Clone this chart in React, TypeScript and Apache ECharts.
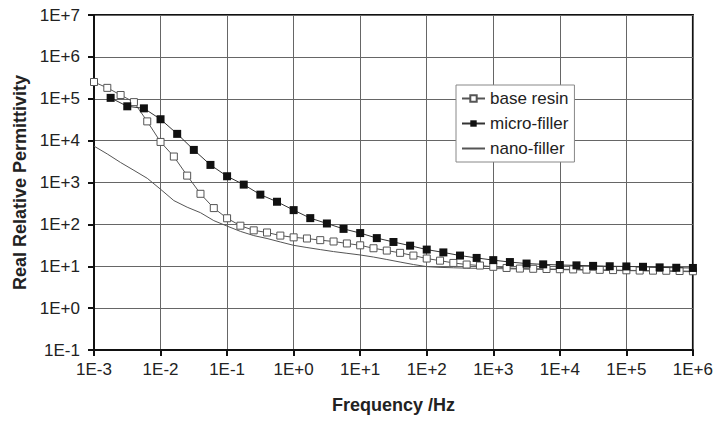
import React, { useEffect, useRef } from 'react';
import * as echarts from 'echarts';

// Frequency (Hz), five points per decade for base resin and nano-filler
const baseResinFreq = [
  1e-3, 1.585e-3, 2.512e-3, 3.981e-3, 6.31e-3,
  1e-2, 1.585e-2, 2.512e-2, 3.981e-2, 6.31e-2,
  1e-1, 1.585e-1, 2.512e-1, 3.981e-1, 6.31e-1,
  1, 1.585, 2.512, 3.981, 6.31,
  10, 15.85, 25.12, 39.81, 63.1,
  100, 158.5, 251.2, 398.1, 631,
  1e3, 1.585e3, 2.512e3, 3.981e3, 6.31e3,
  1e4, 1.585e4, 2.512e4, 3.981e4, 6.31e4,
  1e5, 1.585e5, 2.512e5, 3.981e5, 6.31e5,
  1e6,
];
const baseResinValues = [
  251000, 182000, 123000, 83000, 28800,
  9300, 4170, 1460, 537, 245,
  140, 93, 72, 64, 54,
  49, 46, 42, 39, 35,
  31.6, 26.9, 23.7, 20.9, 18.0,
  15.3, 13.6, 12.0, 11.0, 10.4,
  9.7, 9.1, 8.8, 8.7, 8.6,
  8.5, 8.4, 8.3, 8.2, 8.1,
  8.0, 7.9, 7.85, 7.8, 7.7,
  7.6,
];

// Micro-filler, four points per decade
const microFreq = [
  1.778e-3, 3.162e-3, 5.623e-3,
  1e-2, 1.778e-2, 3.162e-2, 5.623e-2,
  1e-1, 1.778e-1, 3.162e-1, 5.623e-1,
  1, 1.778, 3.162, 5.623,
  10, 17.78, 31.62, 56.23,
  100, 177.8, 316.2, 562.3,
  1e3, 1.778e3, 3.162e3, 5.623e3,
  1e4, 1.778e4, 3.162e4, 5.623e4,
  1e5, 1.778e5, 3.162e5, 5.623e5,
  1e6,
];
const microValues = [
  105000, 66000, 59000,
  32400, 14500, 6000, 2630,
  1410, 890, 513, 347,
  219, 141, 105, 78,
  62, 47, 38, 31,
  25, 21.4, 18, 15.8,
  14, 12.6, 11.6, 11.1,
  10.7, 10.5, 10.2, 10.0,
  9.9, 9.7, 9.4, 9.2,
  9.1,
];

// Nano-filler (line only)
const nanoFreq = baseResinFreq;
const nanoValues = [
  7400, 4800, 3000, 1950, 1260,
  690, 370, 257, 190, 123,
  91, 68, 54, 46, 38,
  31.6, 28, 25, 22.4, 20.4,
  18.6, 16.6, 14.5, 12.6, 11.0,
  9.8, 9.4, 9.2, 9.0, 8.9,
  8.8, 8.7, 8.6, 8.5, 8.4,
  8.3, 8.2, 8.1, 8.0, 7.9,
  7.85, 7.8, 7.7, 7.6, 7.5,
  7.4,
];

const seriesNames = ['base resin', 'micro-filler', 'nano-filler'];

const FONT = '"Liberation Sans", Arial, sans-serif';

const expLabel = (v: number) => {
  const e = Math.round(Math.log10(v));
  return '1E' + (e >= 0 ? '+' : '-') + Math.abs(e);
};

const pair = (xs: number[], ys: number[]) => ys.map((y, i) => [xs[i], y]);

export default function App() {
  const ref = useRef<HTMLDivElement>(null);
  useEffect(() => {
    const chart = echarts.init(ref.current!, null, { renderer: 'svg' });
    chart.setOption({
      animation: false,
      backgroundColor: '#fff',
      textStyle: { fontFamily: FONT },
      grid: {
        left: 94,
        right: 22,
        top: 15,
        bottom: 71,
        show: true,
        borderColor: '#111',
        borderWidth: 2,
        backgroundColor: 'transparent',
      },
      legend: {
        data: [
          { name: seriesNames[0] },
          { name: seriesNames[1] },
          { name: seriesNames[2], itemStyle: { opacity: 0 } },
        ],
        orient: 'vertical',
        left: 456,
        top: 85,
        padding: [5, 6, 5, 5],
        itemWidth: 23,
        itemHeight: 8,
        itemGap: 8,
        borderColor: '#888',
        borderWidth: 1,
        backgroundColor: '#fff',
        textStyle: { fontFamily: FONT, fontSize: 17, color: '#222' },
      },
      xAxis: {
        type: 'log',
        logBase: 10,
        min: 1e-3,
        max: 1e6,
        splitNumber: 9,
        name: 'Frequency /Hz',
        nameLocation: 'middle',
        nameGap: 46,
        nameTextStyle: { fontFamily: FONT, fontSize: 18, fontWeight: 'bold', color: '#222' },
        axisLine: { show: true, lineStyle: { color: '#111', width: 2 } },
        axisTick: { show: true, inside: false, length: 6, lineStyle: { color: '#111', width: 2 } },
        minorTick: { show: false },
        axisLabel: { formatter: expLabel, fontFamily: FONT, fontSize: 17, color: '#222', margin: 11 },
        splitLine: { show: true, lineStyle: { color: '#666', width: 1 } },
      },
      yAxis: {
        type: 'log',
        logBase: 10,
        min: 1e-1,
        max: 1e7,
        splitNumber: 8,
        name: 'Real Relative Permittivity',
        nameLocation: 'middle',
        nameGap: 60,
        nameTextStyle: { fontFamily: FONT, fontSize: 18, fontWeight: 'bold', color: '#222' },
        axisLine: { show: true, lineStyle: { color: '#111', width: 2 } },
        axisTick: { show: true, inside: false, length: 6, lineStyle: { color: '#111', width: 2 } },
        minorTick: { show: false },
        axisLabel: { formatter: expLabel, fontFamily: FONT, fontSize: 17, color: '#222', margin: 14 },
        splitLine: { show: true, lineStyle: { color: '#666', width: 1 } },
      },
      series: [
        {
          name: seriesNames[0],
          type: 'line',
          data: pair(baseResinFreq, baseResinValues),
          symbol: 'rect',
          symbolSize: 7,
          showAllSymbol: true,
          lineStyle: { color: '#555', width: 1 },
          itemStyle: { color: '#fff', borderColor: '#555', borderWidth: 1 },
          z: 2,
        },
        {
          name: seriesNames[1],
          type: 'line',
          data: pair(microFreq, microValues),
          symbol: 'rect',
          symbolSize: 8,
          showAllSymbol: true,
          lineStyle: { color: '#333', width: 1 },
          itemStyle: { color: '#111', borderColor: '#111', borderWidth: 0 },
          z: 3,
        },
        {
          name: seriesNames[2],
          type: 'line',
          data: pair(nanoFreq, nanoValues),
          symbol: 'none',
          showSymbol: false,
          lineStyle: { color: '#555', width: 1 },
          itemStyle: { color: '#555' },
          z: 1,
        },
      ],
    });
    return () => chart.dispose();
  }, []);
  return (
    <div
      ref={ref}
      style={{ position: 'absolute', left: 0, top: 0, width: 716, height: 421, background: '#fff' }}
    />
  );
}
